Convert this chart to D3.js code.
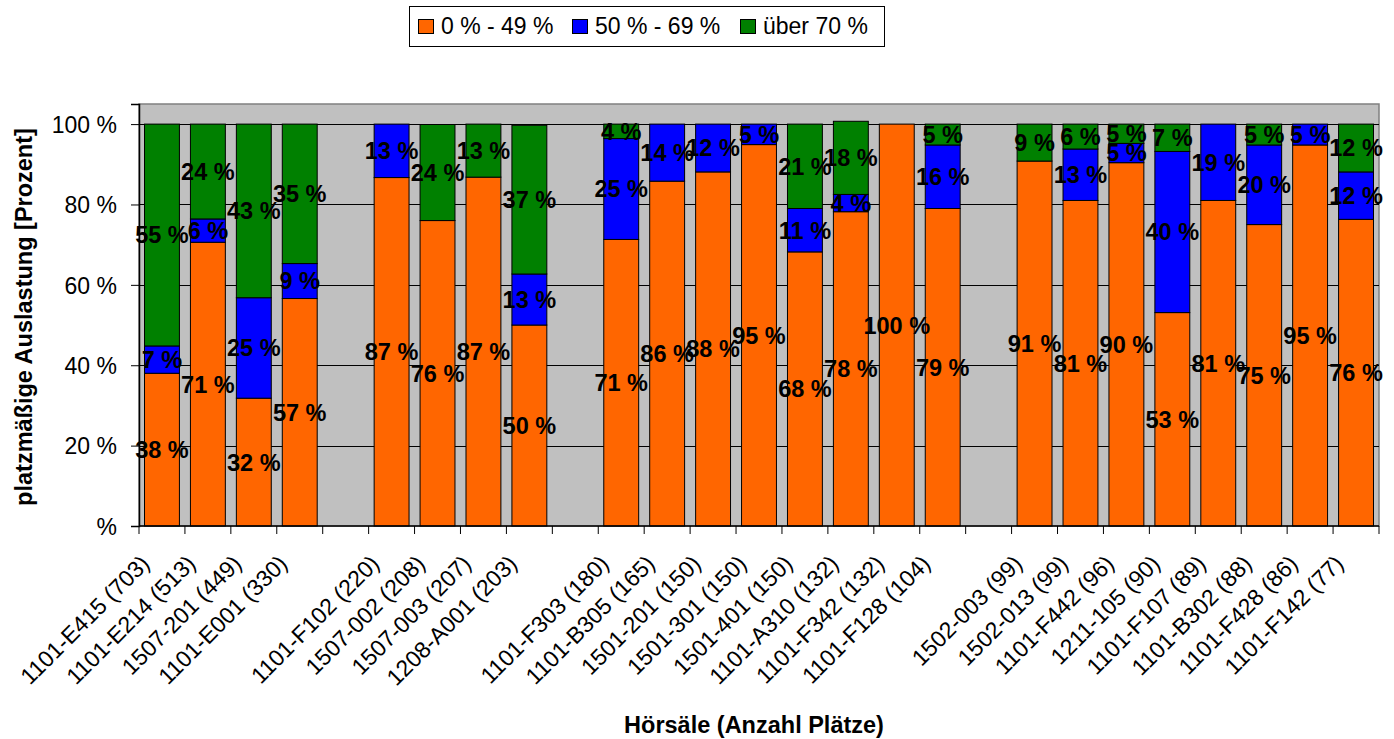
<!DOCTYPE html>
<html>
<head>
<meta charset="utf-8">
<script src="https://cdn.jsdelivr.net/npm/d3@7"></script>
<style>
  html, body { margin: 0; padding: 0; background: #fff; }
  svg { display: block; font-family: "Liberation Sans", Arial, sans-serif; }
</style>
</head>
<body>
<svg id="chart" width="1394" height="739"></svg>
<script>
// Categories ("" = empty spacer slot between groups)
const categories = [
  "1101-E415 (703)", "1101-E214 (513)", "1507-201 (449)", "1101-E001 (330)", "",
  "1101-F102 (220)", "1507-002 (208)", "1507-003 (207)", "1208-A001 (203)", "",
  "1101-F303 (180)", "1101-B305 (165)", "1501-201 (150)", "1501-301 (150)", "1501-401 (150)",
  "1101-A310 (132)", "1101-F342 (132)", "1101-F128 (104)", "",
  "1502-003 (99)", "1502-013 (99)", "1101-F442 (96)", "1211-105 (90)", "1101-F107 (89)",
  "1101-B302 (88)", "1101-F428 (86)", "1101-F142 (77)"
];
const seriesNames = ["0 % - 49 %", "50 % - 69 %", "über 70 %"];
const low  = [38.0, 70.6, 31.8, 56.6, 0, 86.7, 76.0, 86.8, 50.0, 0, 71.3, 85.8, 88.1, 94.9, 68.2, 78.2, 100, 79.0, 0, 90.8, 81.0, 90.4, 53.1, 81.0, 75.0, 94.8, 76.3];
const mid  = [6.8, 5.8, 25.0, 8.7, 0, 13.3, 0, 0, 12.7, 0, 25.1, 14.2, 11.9, 5.1, 10.8, 4.3, 0, 15.8, 0, 0, 12.8, 4.8, 40.1, 19.0, 19.8, 5.2, 11.8];
const high = [55.2, 23.6, 43.2, 34.7, 0, 0, 23.9, 13.2, 37.0, 0, 3.6, 0, 0, 0, 21.0, 18.2, 0, 5.2, 0, 9.2, 6.2, 4.8, 6.8, 0, 5.2, 0, 11.9];
const yTicks = [0, 20, 40, 60, 80, 100];
const colors = ["#FF6600", "#0000FF", "#008000"];

const svg = d3.select("#chart");
const plot = { left: 139, right: 1379, top: 104, bottom: 526 };

const rows = categories.map((c, i) => ({ idx: i, name: c, s0: low[i], s1: mid[i], s2: high[i] }));
const keys = ["s0", "s1", "s2"];
const stacked = d3.stack().keys(keys)(rows);

const x = d3.scaleBand().domain(d3.range(categories.length))
  .range([plot.left, plot.right]).paddingInner(0.24).paddingOuter(0.12);
const y = d3.scaleLinear().domain([0, 105]).range([plot.bottom, plot.top]);

// plot background
svg.append("rect").attr("x", plot.left).attr("y", plot.top)
  .attr("width", plot.right - plot.left).attr("height", plot.bottom - plot.top)
  .attr("fill", "#C0C0C0").attr("stroke", "#808080").attr("stroke-width", 1.5);

// gridlines
svg.append("g").selectAll("line").data(yTicks.filter(d => d > 0)).join("line")
  .attr("x1", plot.left).attr("x2", plot.right)
  .attr("y1", d => Math.round(y(d)) + 0.5).attr("y2", d => Math.round(y(d)) + 0.5)
  .attr("stroke", "#000").attr("stroke-width", 1);

// bars
const layers = svg.append("g").selectAll("g").data(stacked).join("g")
  .attr("fill", (d, i) => colors[i]);
layers.selectAll("rect").data(d => d.filter(p => p[1] - p[0] > 0)).join("rect")
  .attr("x", p => x(p.data.idx))
  .attr("width", x.bandwidth())
  .attr("y", p => y(p[1]))
  .attr("height", p => y(p[0]) - y(p[1]))
  .attr("stroke", "#000").attr("stroke-width", 1);

// y axis
const yAxis = d3.axisLeft(y).tickValues(yTicks).tickSize(8).tickPadding(14)
  .tickFormat(d => d === 0 ? "%" : d + " %");
const gy = svg.append("g").attr("transform", `translate(${plot.left},0)`).call(yAxis);
gy.select(".domain").attr("stroke", "#000").attr("stroke-width", 1.5);
gy.selectAll(".tick line").attr("stroke", "#000");
gy.selectAll(".tick text").attr("font-size", 23).attr("fill", "#000").attr("dy", "0.36em");

// x axis: tick marks at category boundaries
svg.append("line").attr("x1", plot.left).attr("x2", plot.right)
  .attr("y1", plot.bottom).attr("y2", plot.bottom).attr("stroke", "#000").attr("stroke-width", 1.5);
const step = x.step();
svg.append("g").selectAll("line").data(d3.range(categories.length + 1)).join("line")
  .attr("x1", i => plot.left + i * step).attr("x2", i => plot.left + i * step)
  .attr("y1", plot.bottom).attr("y2", plot.bottom + 8)
  .attr("stroke", "#000").attr("stroke-width", 1);

// x tick labels
svg.append("g").selectAll("text").data(rows.filter(r => r.name !== "")).join("text")
  .attr("transform", r => `translate(${x(r.idx) + x.bandwidth() / 2 - 11},565) rotate(-45)`)
  .attr("text-anchor", "end").attr("font-size", 23).attr("fill", "#000")
  .text(r => r.name);

// data labels
const labelG = svg.append("g");
stacked.forEach(layer => {
  labelG.selectAll(null).data(layer.filter(p => p[1] - p[0] > 0)).join("text")
    .attr("x", p => x(p.data.idx) + x.bandwidth() / 2)
    .attr("y", p => y((p[0] + p[1]) / 2))
    .attr("dy", "0.36em")
    .attr("text-anchor", "middle").attr("font-size", 23.5).attr("font-weight", "bold")
    .attr("fill", "#000")
    .text(p => Math.round(p[1] - p[0]) + " %");
});

// axis titles
svg.append("text").attr("transform", `translate(32,${(plot.top + plot.bottom) / 2 + 2}) rotate(-90)`)
  .attr("text-anchor", "middle").attr("font-size", 23.5).attr("font-weight", "bold")
  .text("platzmäßige Auslastung [Prozent]");
svg.append("text").attr("x", 754).attr("y", 733)
  .attr("text-anchor", "middle").attr("font-size", 23.5).attr("font-weight", "bold")
  .text("Hörsäle (Anzahl Plätze)");

// legend
const legend = svg.append("g");
legend.append("rect").attr("x", 409.5).attr("y", 6.5).attr("width", 475).attr("height", 40)
  .attr("fill", "#fff").attr("stroke", "#000").attr("stroke-width", 1);
const legendX = [418, 572, 740];
seriesNames.forEach((n, i) => {
  legend.append("rect").attr("x", legendX[i] + 0.5).attr("y", 19.5).attr("width", 15).attr("height", 14)
    .attr("fill", colors[i]).attr("stroke", "#000").attr("stroke-width", 1);
  legend.append("text").attr("x", legendX[i] + 23).attr("y", 33.5)
    .attr("font-size", 23).attr("fill", "#000").text(n);
});
</script>
</body>
</html>
